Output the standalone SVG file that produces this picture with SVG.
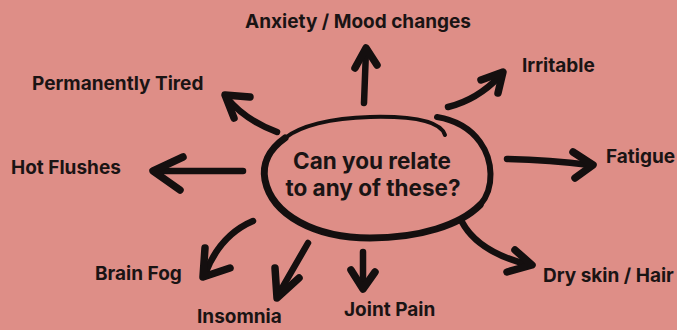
<svg xmlns="http://www.w3.org/2000/svg" width="677" height="330" viewBox="0 0 677 330">
<style>
.bg{fill:#DE8E87}
.lbl{font-family:Inter,"Liberation Sans",sans-serif;font-weight:700;font-size:19px;fill:#1a1414}
.ctr{font-family:Inter,"Liberation Sans",sans-serif;font-weight:700;font-size:22.5px;fill:#1a1414;text-anchor:middle}
.ring{fill:none;stroke:#140f0f;stroke-linecap:round;stroke-linejoin:round}
.shaft{fill:none;stroke:#140f0f;stroke-width:6.5;stroke-linecap:round}
.head{fill:none;stroke:#140f0f;stroke-width:7.5;stroke-linecap:round;stroke-linejoin:round}
</style>
<rect class="bg" x="0" y="0" width="677" height="330"/>
<g id="center">
<path class="ring" stroke-width="4" d="M445,135 C440,120 410,116 370,117 C330,118 300,126 285,138"/>
<path class="ring" stroke-width="7" d="M285,138 C268,150 262,165 265,180 C272,215 315,238 370,238 C420,238 460,225 480,205"/>
<path class="ring" stroke-width="6" d="M480,205 C495,188 493,160 480,142 C470,128 455,120 437,117"/>
<text class="ctr" x="372" y="169">Can you relate</text>
<text class="ctr" x="373" y="196">to any of these?</text>
</g>
<g id="anxiety"><text class="lbl" x="245" y="28">Anxiety / Mood changes</text></g>
<g id="tired"><text class="lbl" x="32" y="90">Permanently Tired</text></g>
<g id="flushes"><text class="lbl" x="11" y="174">Hot Flushes</text></g>
<g id="irritable"><text class="lbl" x="522" y="72">Irritable</text></g>
<g id="fatigue"><text class="lbl" x="606" y="163">Fatigue</text></g>
<g id="brainfog"><text class="lbl" x="95" y="280">Brain Fog</text></g>
<g id="insomnia"><text class="lbl" x="197" y="323">Insomnia</text></g>
<g id="jointpain"><text class="lbl" x="344" y="316">Joint Pain</text></g>
<g id="dryskin"><text class="lbl" x="543" y="282">Dry skin / Hair</text></g>
<g id="connectors">
<path class="shaft" d="M364,103 L366,50"/><path class="head" d="M355,68 L366,48 L377,65"/>
<path class="shaft" d="M448,107 Q477,100 500,76"/><path class="head" d="M481,80 L503,72 L498,93"/>
<path class="shaft" d="M507,159 Q550,160 590,165"/><path class="head" d="M573,152 L593,165 L575,178"/>
<path class="shaft" d="M277,132 Q245,120 227,98"/><path class="head" d="M250,97 L225,95 L234,118"/>
<path class="shaft" d="M243,171 L156,171"/><path class="head" d="M183,157 L153,171 L180,190"/>
<path class="shaft" d="M253,221 Q220,235 205,274"/><path class="head" d="M205,248 L203,277 L230,268"/>
<path class="shaft" d="M308,243 L278,295"/><path class="head" d="M275,268 L277,298 L299,278"/>
<path class="shaft" d="M363,252 L363,287"/><path class="head" d="M351,270 L363,289 L375,272"/>
<path class="shaft" d="M462,222 Q478,252 529,265"/><path class="head" d="M515,250 L532,265 L507,272"/>
</g>
</svg>
